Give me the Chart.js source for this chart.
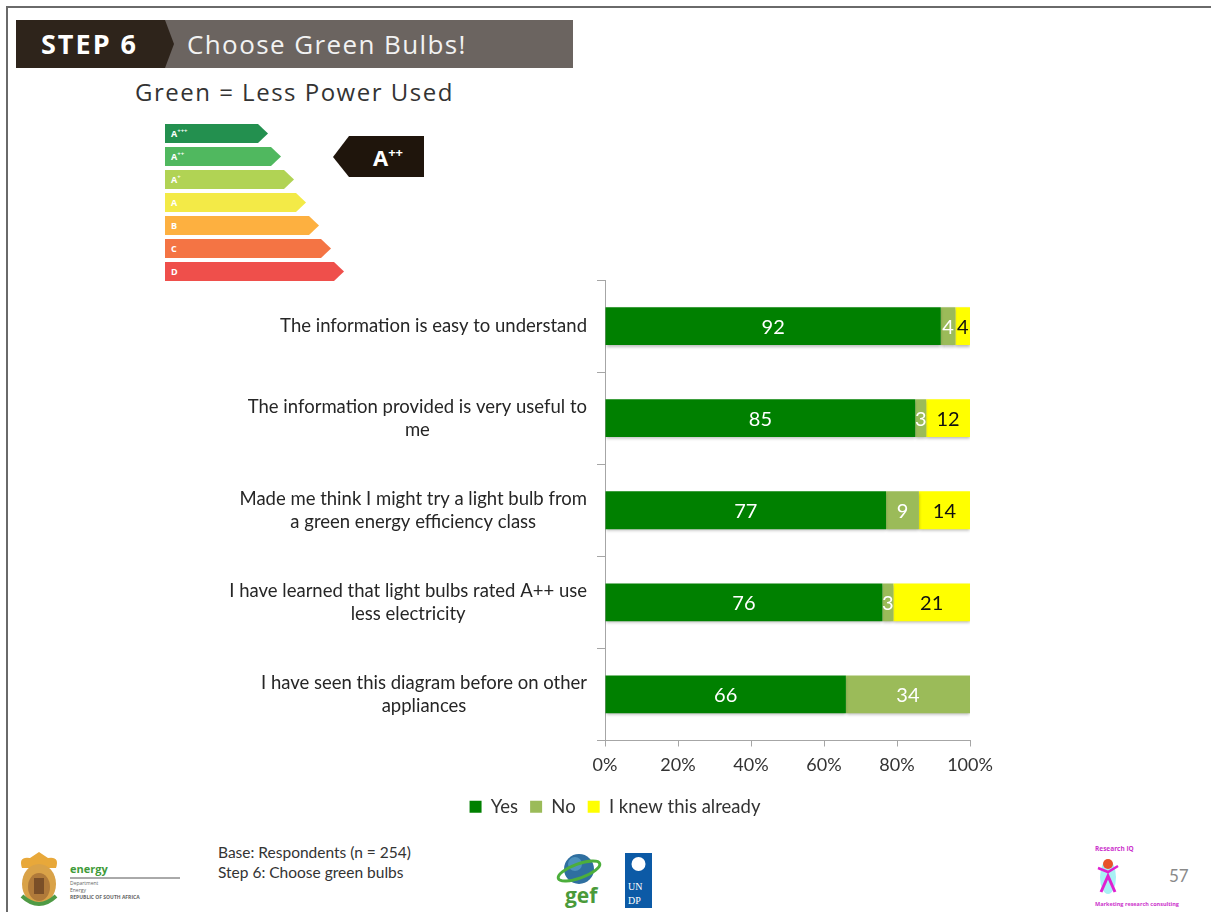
<!DOCTYPE html>
<html>
<head>
<meta charset="utf-8">
<script src="https://cdn.jsdelivr.net/npm/chart.js@4.4.1/dist/chart.umd.min.js"></script>
<style>
  html, body { margin: 0; padding: 0; background: #fff; }
  #page { position: relative; width: 1211px; height: 912px; overflow: hidden; }
  #decor { position: absolute; left: 0; top: 0; }
  #c { position: absolute; left: 0; top: 0; }
</style>
</head>
<body>
<div id="page">
  <svg id="decor" width="1211" height="912" xmlns="http://www.w3.org/2000/svg">
    <!-- slide frame -->
    <line x1="6" y1="7" x2="1211" y2="7" stroke="#6a6a6a" stroke-width="2"/>
    <line x1="7" y1="6" x2="7" y2="912" stroke="#6a6a6a" stroke-width="2"/>

    <!-- header band -->
    <rect x="16" y="20" width="557" height="48" fill="#6b6460"/>
    <polygon points="16,20 165,20 174,44 165,68 16,68" fill="#2e241b"/>
    <text x="41" y="54" font-family="Open Sans, sans-serif" font-weight="700" font-size="27" letter-spacing="2" fill="#fff">STEP 6</text>
    <text x="187" y="54" font-family="Open Sans, sans-serif" font-size="26" letter-spacing="1.4" fill="#f2f2f2">Choose Green Bulbs!</text>
    <text x="135" y="101" font-family="Open Sans, sans-serif" font-size="24" letter-spacing="1.5" fill="#333">Green = Less Power Used</text>

    <!-- energy class arrows -->
    <g font-family="Open Sans, sans-serif" font-size="9" font-weight="700" fill="#fff">
      <polygon points="165,124 258,124 268,133.5 258,143 165,143" fill="#23904f"/>
      <text x="171" y="137">A<tspan font-size="6" dy="-4">+++</tspan></text>
      <polygon points="165,147 271,147 281,156.5 271,166 165,166" fill="#50b85f"/>
      <text x="171" y="160">A<tspan font-size="6" dy="-4">++</tspan></text>
      <polygon points="165,170 284,170 294,179.5 284,189 165,189" fill="#b1d354"/>
      <text x="171" y="183">A<tspan font-size="6" dy="-4">+</tspan></text>
      <polygon points="165,193 296,193 306,202.5 296,212 165,212" fill="#f3ea47"/>
      <text x="171" y="206">A</text>
      <polygon points="165,216 309,216 319,225.5 309,235 165,235" fill="#fdb040"/>
      <text x="171" y="229">B</text>
      <polygon points="165,239 321,239 331,248.5 321,258 165,258" fill="#f47444"/>
      <text x="171" y="252">C</text>
      <polygon points="165,262 334,262 344,271.5 334,281 165,281" fill="#ef4f4b"/>
      <text x="171" y="275">D</text>
    </g>

    <!-- rating badge -->
    <polygon points="333,157 349,136 424,136 424,177 349,177" fill="#1f150c"/>
    <text x="373" y="166" font-family="Open Sans, sans-serif" font-weight="700" font-size="22" fill="#fff">A<tspan font-size="13" dy="-9">++</tspan></text>

    <!-- footer: coat of arms + department -->
    <path d="M22,868 Q18,856 30,858 L39,852 L48,858 Q60,856 56,868 Z" fill="#e8a83a"/>
    <ellipse cx="39" cy="884" rx="17" ry="20" fill="#d9a248"/>
    <ellipse cx="39" cy="887" rx="11" ry="14" fill="#b07a3a"/>
    <rect x="34" y="878" width="10" height="16" fill="#7a4f28"/>
    <path d="M22,896 Q39,912 56,896" fill="none" stroke="#4f9a45" stroke-width="4"/>
    <text x="70" y="873" font-family="Open Sans, sans-serif" font-weight="700" font-size="11" fill="#3f9b3a">energy</text>
    <line x1="70" y1="878" x2="180" y2="878" stroke="#555" stroke-width="1"/>
    <g font-family="Open Sans, sans-serif" font-size="5" fill="#666">
      <text x="70" y="885">Department</text>
      <text x="70" y="892">Energy</text>
      <text x="70" y="899" font-weight="700">REPUBLIC OF SOUTH AFRICA</text>
    </g>
    <g font-family="Lato, sans-serif" font-size="15.5" fill="#333">
      <text x="218" y="858">Base: Respondents (n = 254)</text>
      <text x="218" y="878">Step 6: Choose green bulbs</text>
    </g>

    <!-- footer: gef + UNDP -->
    <circle cx="579" cy="869" r="15" fill="#2f6fa0"/>
    <circle cx="575" cy="864" r="7" fill="#5aa0c8" opacity="0.7"/>
    <ellipse cx="579" cy="871" rx="22" ry="7" fill="none" stroke="#4cae3c" stroke-width="3" transform="rotate(-20 579 871)"/>
    <text x="565" y="903" font-family="Open Sans, sans-serif" font-weight="700" font-size="21" fill="#4a9a3a">gef</text>
    <rect x="625" y="853" width="27" height="55" fill="#0c5aa6"/>
    <circle cx="638.5" cy="864" r="7" fill="#fff"/>
    <text x="628" y="890" font-family="serif" font-size="10" fill="#fff">UN</text>
    <text x="628" y="904" font-family="serif" font-size="10" fill="#fff">DP</text>

    <!-- footer: Research IQ + page number -->
    <text x="1095" y="851" font-family="Open Sans, sans-serif" font-weight="700" font-size="6.5" fill="#cc33cc">Research IQ</text>
    <ellipse cx="1108" cy="877" rx="8" ry="17" fill="#a8f0f4"/>
    <circle cx="1108" cy="864" r="5" fill="#e8532a"/>
    <polyline points="1098,868 1108,872 1118,866" fill="none" stroke="#e020d0" stroke-width="2.5"/>
    <polyline points="1101,892 1108,876 1115,892" fill="none" stroke="#e020d0" stroke-width="3"/>
    <text x="1095" y="906" font-family="Open Sans, sans-serif" font-weight="700" font-size="5.5" fill="#cc33cc">Marketing research consulting</text>
    <text x="1169" y="882" font-family="Lato, sans-serif" font-size="17" fill="#8a8a8a">57</text>
  </svg>

  <canvas id="c" width="1030" height="912"></canvas>
</div>

<script>
// --- Chart data ---
const categories = [
    ['The information is easy to understand'],
    ['The information provided is very useful to', 'me'],
    ['Made me think I might try a light bulb from', 'a green energy efficiency class'],
    ['I have learned that light bulbs rated A++ use', 'less electricity'],
    ['I have seen this diagram before on other', 'appliances']
];
const seriesNames = ['Yes', 'No', 'I knew this already'];
const yesValues = [92, 85, 77, 76, 66];
const noValues = [4, 3, 9, 3, 34];
const knewValues = [4, 12, 14, 21, 0];
const xTickValues = [0, 20, 40, 60, 80, 100];

const FONT = 'Lato, "Open Sans", sans-serif';

// soft shadow under the bars
const barShadow = {
    id: 'barShadow',
    beforeDatasetsDraw(chart) {
        const ctx = chart.ctx;
        ctx.save();
        ctx.shadowColor = 'rgba(0,0,0,0.28)';
        ctx.shadowOffsetY = 2;
        ctx.shadowBlur = 3;
    },
    afterDatasetsDraw(chart) {
        chart.ctx.restore();
    }
};

// value in the middle of each segment
const segmentLabels = {
    id: 'segmentLabels',
    afterDatasetsDraw(chart) {
        const ctx = chart.ctx;
        ctx.save();
        ctx.font = '20px ' + FONT;
        ctx.textAlign = 'center';
        ctx.textBaseline = 'middle';
        chart.data.datasets.forEach((ds, i) => {
            const meta = chart.getDatasetMeta(i);
            meta.data.forEach((bar, j) => {
                const v = ds.data[j];
                if (!v) return;
                const left = Math.min(bar.base, bar.x);
                const right = Math.max(bar.base, bar.x);
                ctx.fillStyle = ds.labelColor;
                ctx.fillText(String(v), (left + right) / 2, bar.y + 1);
            });
        });
        ctx.restore();
    }
};

// category text: block right-aligned to the axis, lines centred within the block
const categoryLabels = {
    id: 'categoryLabels',
    afterDraw(chart) {
        const ctx = chart.ctx;
        const yScale = chart.scales.y;
        const rightEdge = chart.chartArea.left - 18;
        const lineH = 23;
        ctx.save();
        ctx.font = '18.5px ' + FONT;
        ctx.fillStyle = '#262626';
        ctx.textAlign = 'center';
        ctx.textBaseline = 'middle';
        categories.forEach((lines, i) => {
            const yc = yScale.getPixelForValue(i);
            const w = Math.max(...lines.map(l => ctx.measureText(l).width));
            const xc = rightEdge - w / 2;
            const y0 = yc - (lines.length - 1) * lineH / 2;
            lines.forEach((l, k) => ctx.fillText(l, xc, y0 + k * lineH));
        });
        ctx.restore();
    }
};

new Chart(document.getElementById('c'), {
    type: 'bar',
    data: {
        labels: categories,
        datasets: [
            { label: seriesNames[0], data: yesValues, backgroundColor: '#008000', labelColor: '#ffffff' },
            { label: seriesNames[1], data: noValues, backgroundColor: '#9bbb59', labelColor: '#ffffff' },
            { label: seriesNames[2], data: knewValues, backgroundColor: '#ffff00', labelColor: '#111111' }
        ]
    },
    options: {
        indexAxis: 'y',
        responsive: false,
        animation: false,
        barPercentage: 0.82,
        categoryPercentage: 0.5,
        layout: { padding: { left: 260, right: 60, top: 280, bottom: 86 } },
        scales: {
            x: {
                stacked: true,
                min: 0,
                max: 100,
                afterBuildTicks(scale) {
                    scale.ticks = xTickValues.map(v => ({ value: v }));
                },
                afterFit(scale) { scale.height = 45; },
                grid: { drawOnChartArea: false, drawTicks: true, tickLength: 6, color: '#a6a6a6' },
                border: { color: '#a6a6a6' },
                ticks: {
                    color: '#333',
                    font: { family: FONT, size: 18 },
                    padding: 8,
                    callback: v => v + '%'
                }
            },
            y: {
                stacked: true,
                afterFit(scale) { scale.width = 345; },
                grid: { drawOnChartArea: false, drawTicks: true, tickLength: 8, color: '#a6a6a6' },
                border: { color: '#a6a6a6' },
                ticks: { display: false }
            }
        },
        plugins: {
            legend: {
                position: 'bottom',
                labels: {
                    boxWidth: 12,
                    boxHeight: 12,
                    padding: 12,
                    color: '#333',
                    font: { family: FONT, size: 18.5 }
                }
            },
            tooltip: { enabled: false }
        }
    },
    plugins: [barShadow, segmentLabels, categoryLabels]
});
</script>
</body>
</html>
